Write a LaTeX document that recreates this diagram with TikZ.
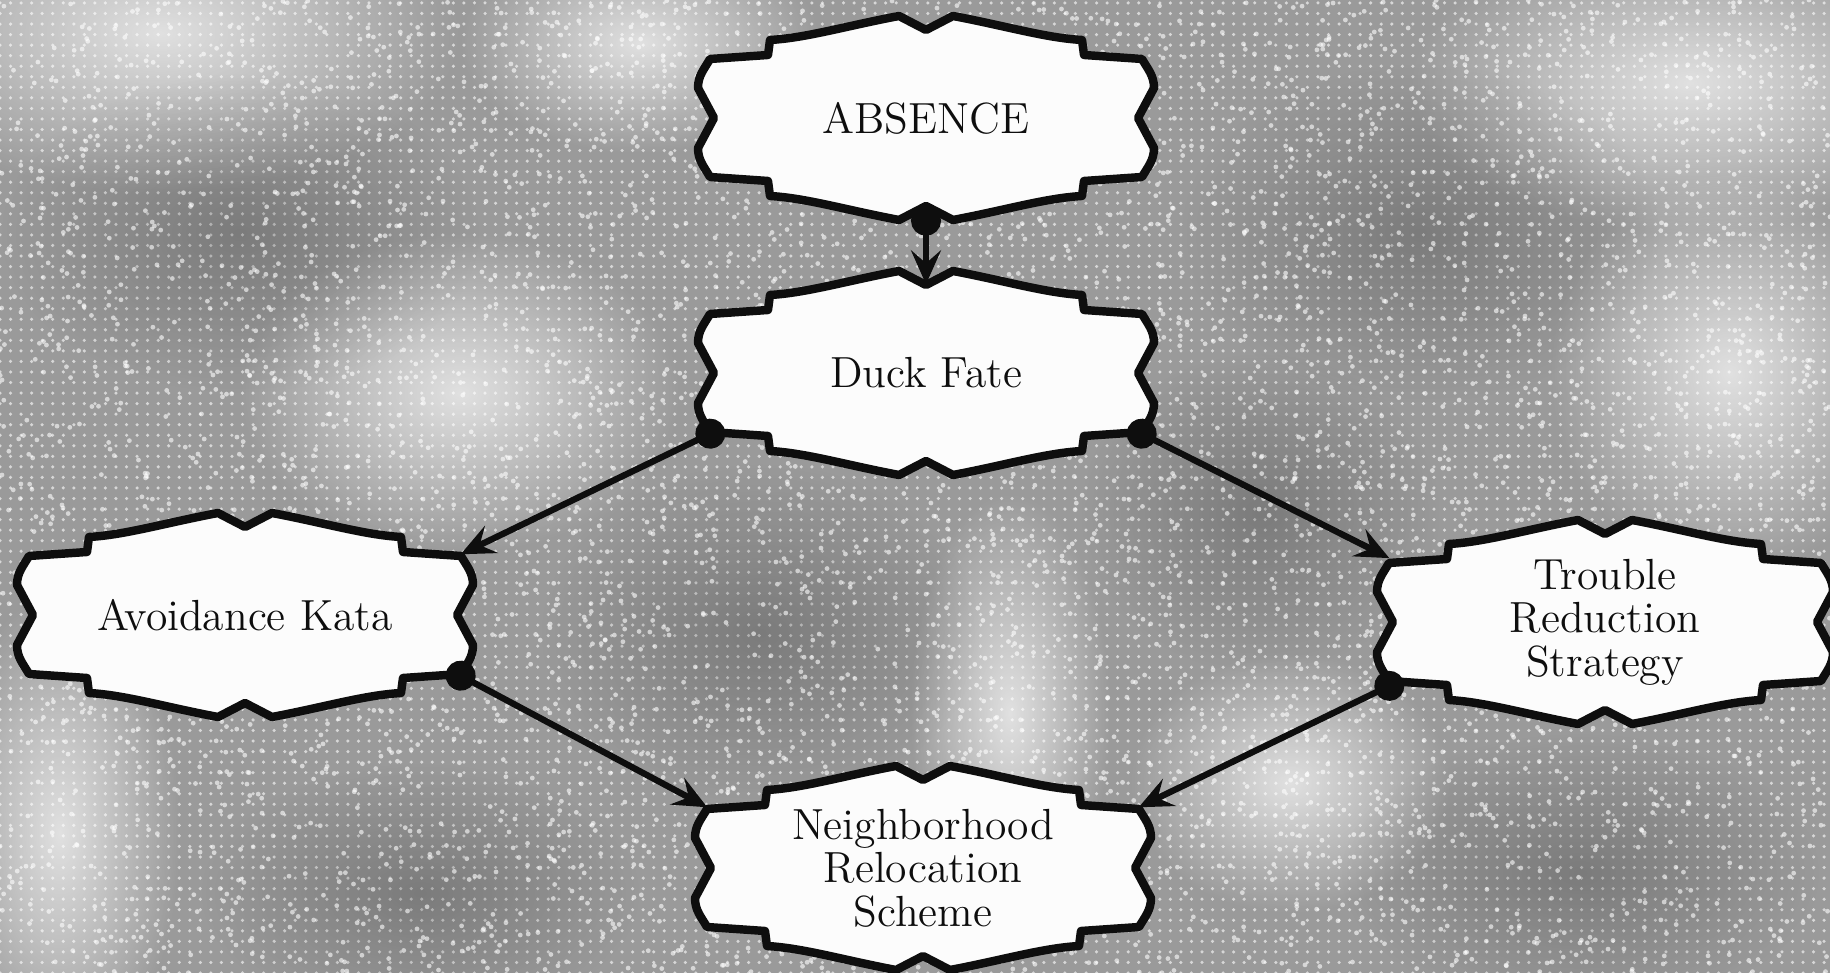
\documentclass[tikz,border=0pt]{standalone}
\usepackage{xcolor}
\definecolor{speck}{HTML}{9A9A9A}
\definecolor{ink}{HTML}{0E0E0E}
\definecolor{paper}{HTML}{FCFCFC}
\usepackage{tikz}
\usetikzlibrary{arrows.meta, positioning, calc, backgrounds, patterns, fadings}
\tikzfading[name=blob, inner color=transparent!0, outer color=transparent!100]

\begin{document}
\begin{tikzpicture}[
    text=ink,
    plaque/.style={minimum width=4.3cm, minimum height=1.2cm, inner sep=0pt, align=center,
      font=\fontsize{12.4}{12.4}\selectfont},
    outline/.style={draw=ink, line width=2.4pt, fill=paper, line join=round},
    link/.style={draw=ink, line width=1.8pt, shorten <=-1.5mm,
      arrows={Circle[length=3mm]-Stealth[length=3.4mm, width=3mm, inset=1.3mm]}}
]
\useasboundingbox (0,0) rectangle (18.3,9.73);

% ── Plaques ──
\node[plaque] (absence) at (9.26, 8.55) {ABSENCE};
\node[plaque] (duck)    at (9.26, 6.00) {Duck Fate};
\node[plaque] (avoid)   at (2.45, 3.58) {Avoidance Kata};
\node[plaque] (trouble) at (16.05, 3.51) {Trouble\\Reduction\\Strategy};
\node[plaque] (scheme)  at (9.23, 1.05) {Neighborhood\\Relocation\\Scheme};

% ── Speckled ground and frames ──
\begin{scope}[on background layer]
  \fill[speck] (0,0) rectangle (18.3,9.73);
  \fill[pattern=dots, pattern color=speck!40!white] (0,0) rectangle (18.3,9.73);
  \foreach \x/\y/\rx/\ry in {1.6/9.4/3.0/1.6, 4.6/5.8/2.2/1.6, 16.9/8.9/2.8/1.5,
      17.3/6.0/1.8/2.0, 10.1/2.6/1.0/2.2, 0.6/1.4/1.2/2.4, 6.4/9.3/1.8/1.1, 12.9/1.9/1.6/1.3}
    \fill[white, opacity=0.7, path fading=blob] (\x,\y) ellipse ({\rx} and {\ry});
  \foreach \x/\y/\rx/\ry in {2.4/7.4/2.4/1.6, 7.6/3.4/2.2/1.7, 14.2/7.4/2.4/1.7,
      15.8/1.0/2.4/1.4, 4.2/0.8/2.2/1.3, 12.6/4.6/1.8/1.6}
    \fill[black, opacity=0.2, path fading=blob] (\x,\y) ellipse ({\rx} and {\ry});
  \pgfmathsetseed{7}
  \foreach \i in {1,...,4500}
    \fill[white, opacity=0.6] (18.3*rnd, 9.73*rnd) circle (0.024);
  \foreach \n in {absence, duck, avoid, trouble, scheme}
    \draw[outline, shift={(\n.center)}]
      (0,0.88) -- (0.27,1.02) .. controls (0.8,0.92) and (1.2,0.80) .. (1.56,0.78)
      -- (1.58,0.63) -- (2.16,0.59) to[out=-60,in=90] (2.28,0.3) -- (2.12,0)
      -- (2.28,-0.3) to[out=-90,in=60] (2.16,-0.59) -- (1.58,-0.63) -- (1.56,-0.78)
      .. controls (1.2,-0.80) and (0.8,-0.92) .. (0.27,-1.02) -- (0,-0.88)
      -- (-0.27,-1.02) .. controls (-0.8,-0.92) and (-1.2,-0.80) .. (-1.56,-0.78)
      -- (-1.58,-0.63) -- (-2.16,-0.59) to[out=120,in=-90] (-2.28,-0.3) -- (-2.12,0)
      -- (-2.28,0.3) to[out=90,in=-120] (-2.16,0.59) -- (-1.58,0.63) -- (-1.56,0.78)
      .. controls (-1.2,0.80) and (-0.8,0.92) .. (-0.27,1.02) -- cycle;
\end{scope}

% ── Links ──
\draw[link] ([yshift=-4.2mm]absence.south) -- ([yshift=2.8mm]duck.north);
\draw[link] (duck.south west) -- (avoid.north east);
\draw[link] (duck.south east) -- (trouble.north west);
\draw[link] (avoid.south east) -- (scheme.north west);
\draw[link] (trouble.south west) -- (scheme.north east);
\end{tikzpicture}
\end{document}
